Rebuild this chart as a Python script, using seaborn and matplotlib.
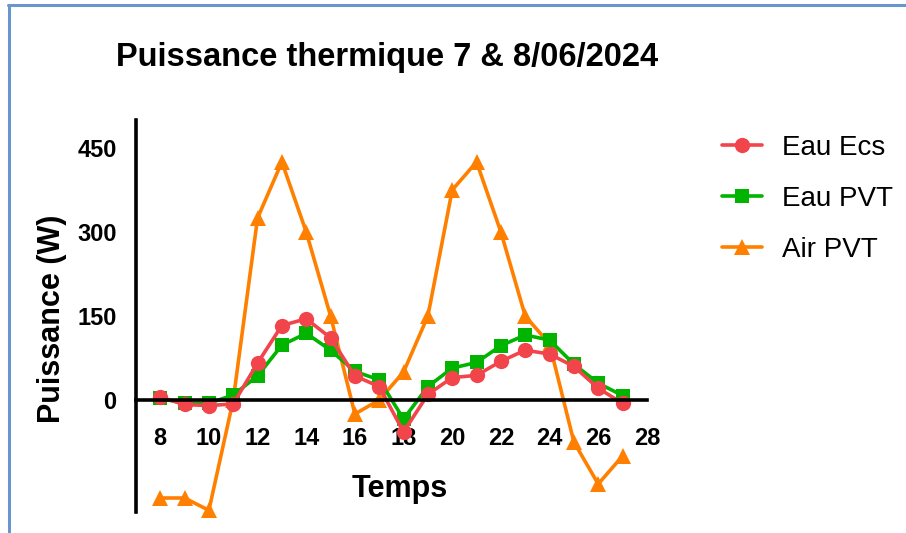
import matplotlib
matplotlib.use("Agg")
import matplotlib.pyplot as plt
import seaborn as sns
import pandas as pd
from matplotlib.lines import Line2D

# Hourly thermal power readings (hours 8..27, spanning two days)
temps = list(range(8, 28))
eau_ecs = [5, -8, -10, -7, 66, 133, 145, 111, 43, 24,
           -57, 10, 40, 44, 69, 89, 82, 60, 21, -6]
eau_pvt = [3, -6, -6, 9, 43, 98, 119, 89, 51, 36,
           -34, 24, 57, 67, 97, 116, 107, 64, 30, 8]
air_pvt = [-175, -175, -197, 0, 325, 425, 300, 150, -25, 0,
           50, 150, 375, 425, 300, 150, 100, -75, -150, -100]

series_names = ["Eau Ecs", "Eau PVT", "Air PVT"]
colors = {"Eau Ecs": "#f2454b", "Eau PVT": "#00b400", "Air PVT": "#ff8000"}
markers = {"Eau Ecs": "o", "Eau PVT": "s", "Air PVT": "^"}
msizes = {"Eau Ecs": 11, "Eau PVT": 9.5, "Air PVT": 11}

x_ticks = list(range(8, 29, 2))
y_ticks = [0, 150, 300, 450]

df = pd.concat([
    pd.DataFrame({"Temps": temps, "Puissance": eau_ecs, "Série": "Eau Ecs"}),
    pd.DataFrame({"Temps": temps, "Puissance": eau_pvt, "Série": "Eau PVT"}),
    pd.DataFrame({"Temps": temps, "Puissance": air_pvt, "Série": "Air PVT"}),
])

sns.set_style("white")
plt.rcParams["font.family"] = ["Liberation Sans", "DejaVu Sans"]
for key in ["text.color", "axes.labelcolor", "xtick.color", "ytick.color"]:
    plt.rcParams[key] = "black"

fig = plt.figure(figsize=(9.06, 5.33), dpi=100)
ax = fig.add_axes([0.150, 0.0394, 0.564, 0.7355])

# draw back to front: air, then eau pvt, then eau ecs on top
for name in ["Air PVT", "Eau PVT", "Eau Ecs"]:
    sub = df[df["Série"] == name]
    sns.lineplot(data=sub, x="Temps", y="Puissance", ax=ax,
                 color=colors[name], marker=markers[name],
                 markersize=msizes[name], markeredgewidth=0,
                 linewidth=2.6, legend=False, clip_on=False)

ax.set_xlim(7, 28)
ax.set_ylim(-200, 500)
ax.set_xticks(x_ticks)
ax.set_yticks(y_ticks)

for side in ["top", "right"]:
    ax.spines[side].set_visible(False)
ax.spines["bottom"].set_position(("data", 0))
for side in ["left", "bottom"]:
    ax.spines[side].set_linewidth(2.6)
    ax.spines[side].set_color("black")
ax.tick_params(axis="both", which="major", direction="out", length=9.4,
               width=2.6, color="black", labelsize=17)
ax.tick_params(axis="x", pad=10)
ax.tick_params(axis="y", pad=4.5)
for lab in ax.get_xticklabels() + ax.get_yticklabels():
    lab.set_fontweight("bold")

ax.set_xlabel("Temps", fontsize=22, fontweight="bold", va="top")
ax.xaxis.set_label_coords(0.517, 0.096)
ax.set_ylabel("Puissance (W)", fontsize=22, fontweight="bold")
ax.yaxis.set_label_coords(-0.135, 0.492)

fig.text(0.4277, 0.893, "Puissance thermique 7 & 8/06/2024",
         ha="center", va="center", fontsize=23.5, fontweight="bold")

handles = [Line2D([0], [0], color=colors[n], marker=markers[n], linewidth=2.6,
                  markersize=msizes[n], markeredgewidth=0)
           for n in series_names]
fig.legend(handles, series_names, loc="center left",
           bbox_to_anchor=(0.769, 0.6266), frameon=False, fontsize=20,
           handlelength=1.44, handletextpad=0.72, labelspacing=0.9)

# thin blue frame along the top and left edges
fig.add_artist(Line2D([0.010, 0.010], [0, 0.991], transform=fig.transFigure,
                      color="#6a96d0", linewidth=2.2))
fig.add_artist(Line2D([0.009, 1.0], [0.991, 0.991], transform=fig.transFigure,
                      color="#6a96d0", linewidth=2.2))

fig.savefig("out.png", dpi=100)
